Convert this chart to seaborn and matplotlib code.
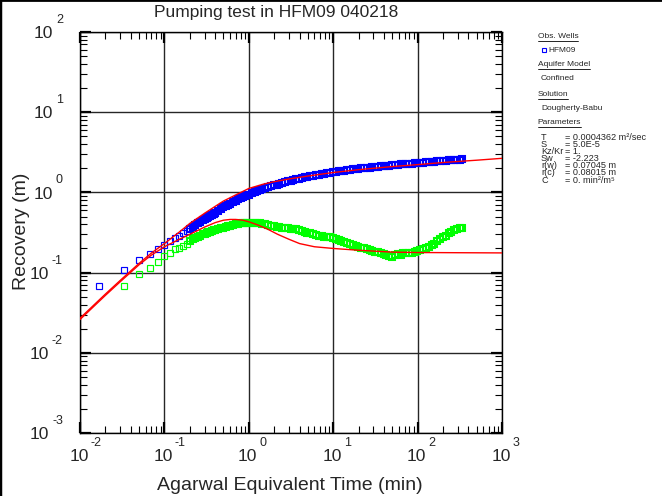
import numpy as np
import pandas as pd
import matplotlib
matplotlib.use("Agg")
import matplotlib.pyplot as plt
from matplotlib.lines import Line2D
from matplotlib.ticker import LogLocator, NullFormatter
import seaborn as sns

# ---------------- data ----------------
obs_time = [0.0167, 0.0333, 0.05, 0.0667, 0.0833, 0.1, 0.117, 0.133, 0.15, 0.167, 0.183,
            0.2, 0.217, 0.233, 0.25, 0.267, 0.283, 0.3, 0.317, 0.333, 0.35,
            0.367, 0.383, 0.4, 0.433, 0.467, 0.5, 0.533, 0.567, 0.6, 0.65,
            0.7, 0.75, 0.8, 0.85, 0.9, 0.95, 1.0, 1.08, 1.17, 1.25,
            1.35, 1.45, 1.57, 1.7, 1.83, 1.97, 2.13, 2.3, 2.48, 2.68,
            2.9, 3.13, 3.38, 3.65, 3.94, 4.25, 4.6, 4.96, 5.36, 5.79,
            6.25, 6.75, 7.29, 7.87, 8.5, 9.18, 9.92, 10.7, 11.6, 12.5,
            13.5, 14.6, 15.7, 17, 18.4, 19.8, 21.4, 23.1, 25, 27,
            29.1, 31.5, 34, 36.7, 39.6, 42.8, 46.2, 49.9, 53.9, 58.2,
            62.9, 67.9, 73.3, 79.2, 85.5, 92.4, 99.7, 108, 116, 126,
            136, 147, 158, 171, 185, 199, 215, 233, 251, 271,
            293, 316, 340]
recovery = [0.069, 0.107, 0.143, 0.169, 0.197, 0.219, 0.245, 0.268, 0.29, 0.31, 0.33,
            0.35, 0.37, 0.39, 0.41, 0.43, 0.45, 0.47, 0.485, 0.50, 0.515,
            0.53, 0.545, 0.56, 0.59, 0.62, 0.65, 0.68, 0.70, 0.725, 0.76,
            0.79, 0.82, 0.845, 0.87, 0.895, 0.915, 0.94, 0.975, 1.01, 1.04,
            1.07, 1.10, 1.13, 1.16, 1.19, 1.22, 1.25, 1.28, 1.31, 1.34,
            1.37, 1.40, 1.43, 1.46, 1.49, 1.51, 1.54, 1.57, 1.59, 1.62,
            1.64, 1.67, 1.69, 1.72, 1.74, 1.76, 1.79, 1.81, 1.83, 1.85,
            1.87, 1.89, 1.91, 1.93, 1.95, 1.97, 1.99, 2.01, 2.03, 2.04,
            2.06, 2.08, 2.10, 2.11, 2.13, 2.15, 2.16, 2.18, 2.20, 2.21,
            2.23, 2.24, 2.26, 2.27, 2.29, 2.30, 2.32, 2.33, 2.35, 2.37,
            2.38, 2.40, 2.42, 2.43, 2.45, 2.47, 2.48, 2.50, 2.52, 2.53,
            2.55, 2.57, 2.58]

deriv_time = obs_time[1:]
derivative = [0.069, 0.095, 0.115, 0.136, 0.163, 0.178, 0.195, 0.205, 0.215, 0.23,
              0.25, 0.26, 0.27, 0.28, 0.29, 0.30, 0.305, 0.312, 0.32, 0.325,
              0.33, 0.335, 0.34, 0.35, 0.36, 0.365, 0.375, 0.38, 0.385, 0.395,
              0.40, 0.405, 0.41, 0.415, 0.42, 0.42, 0.42, 0.42, 0.418, 0.415,
              0.41, 0.405, 0.40, 0.39, 0.385, 0.38, 0.375, 0.37, 0.365, 0.36,
              0.355, 0.35, 0.35, 0.345, 0.335, 0.33, 0.32, 0.315, 0.31, 0.30,
              0.295, 0.29, 0.285, 0.28, 0.28, 0.275, 0.27, 0.265, 0.255, 0.25,
              0.24, 0.235, 0.225, 0.22, 0.215, 0.21, 0.205, 0.20, 0.195, 0.19,
              0.188, 0.183, 0.18, 0.176, 0.172, 0.168, 0.163, 0.158, 0.166, 0.17,
              0.168, 0.174, 0.176, 0.174, 0.178, 0.18, 0.184, 0.19, 0.196, 0.20,
              0.21, 0.22, 0.23, 0.245, 0.26, 0.275, 0.29, 0.31, 0.325, 0.34,
              0.35, 0.355, 0.355]

model_time = [0.01, 0.02, 0.03, 0.05, 0.07, 0.1, 0.15, 0.2, 0.3, 0.4, 0.5, 0.7,
              1.0, 1.5, 2, 3, 5, 7, 10, 20, 50, 100, 200, 500, 1000]
model_recovery = [0.027, 0.054, 0.08, 0.13, 0.175, 0.23, 0.32, 0.41, 0.55, 0.67,
                  0.78, 0.93, 1.12, 1.27, 1.36, 1.47, 1.60, 1.68, 1.77, 1.92,
                  2.10, 2.22, 2.36, 2.52, 2.66]

model_deriv_time = [0.01, 0.02, 0.03, 0.05, 0.07, 0.1, 0.15, 0.2, 0.3, 0.4, 0.5,
                    0.6, 0.7, 0.85, 1.0, 1.3, 1.7, 2.2, 3, 4, 6, 10, 20, 50,
                    100, 300, 1000]
model_derivative = [0.026, 0.052, 0.077, 0.125, 0.165, 0.21, 0.26, 0.30, 0.37,
                    0.42, 0.45, 0.46, 0.46, 0.45, 0.43, 0.39, 0.345, 0.30,
                    0.26, 0.23, 0.21, 0.20, 0.19, 0.18, 0.178, 0.177, 0.176]

x_exponents = [-2, -1, 0, 1, 2, 3]
y_exponents = [-3, -2, -1, 0, 1, 2]

title = "Pumping test in HFM09 040218"
x_label = "Agarwal Equivalent Time (min)"
y_label = "Recovery (m)"

legend_items = [
    ("head", "Obs. Wells"),
    ("well", "HFM09"),
    ("head", "Aquifer Model"),
    ("item", "Confined"),
    ("head", "Solution"),
    ("item", "Dougherty-Babu"),
    ("head", "Parameters"),
]
param_names = ["T", "S", "Kz/Kr", "Sw", "r(w)", "r(c)", "C"]
param_values = ["= 0.0004362 m\u00b2/sec", "= 5.0E-5", "= 1.", "= -2.223",
                "= 0.07045 m", "= 0.08015 m", "= 0. min\u00b2/m\u2075"]

# ---------------- style ----------------
sns.set_style("white")
plt.rcParams["font.family"] = ["Liberation Sans", "DejaVu Sans"]

W, H = 662, 496
fig = plt.figure(figsize=(W / 100, H / 100), dpi=100)
fig.patch.set_facecolor("white")
ax = fig.add_axes([80 / W, 1 - 433 / H, (502 - 80) / W, (433 - 32) / H])
ax.set_facecolor("white")

BLUE = "#0000FF"
GREEN = "#00FF00"
RED = "#FF0000"

obs_df = pd.DataFrame({"time": obs_time, "recovery": recovery})
der_df = pd.DataFrame({"time": deriv_time, "derivative": derivative})
mod_df = pd.DataFrame({"time": model_time, "recovery": model_recovery})
mdd_df = pd.DataFrame({"time": model_deriv_time, "derivative": model_derivative})

ax.set_xscale("log")
ax.set_yscale("log")

# sparse early readings: thin isolated squares; dense later readings: bolder band
SPLIT = 0.19
for df, col, colr in ((obs_df, "recovery", BLUE), (der_df, "derivative", GREEN)):
    early = df[df["time"] < SPLIT]
    late = df[df["time"] >= SPLIT]
    sns.lineplot(data=early, x="time", y=col, ax=ax, linestyle="", marker="s",
                 markersize=4.0, markerfacecolor="none", markeredgecolor=colr,
                 markeredgewidth=0.85, color=colr, zorder=3)
    sns.lineplot(data=late, x="time", y=col, ax=ax, linestyle="", marker="s",
                 markersize=4.8, markerfacecolor="none", markeredgecolor=colr,
                 markeredgewidth=1.5, color=colr, zorder=3)

sns.lineplot(data=mod_df, x="time", y="recovery", ax=ax, color=RED,
             linewidth=1.0, zorder=4)
sns.lineplot(data=mdd_df, x="time", y="derivative", ax=ax, color=RED,
             linewidth=1.0, zorder=4)

ax.set_xlim(1e-2, 1e3)
ax.set_ylim(1e-3, 1e2)
ax.set_xlabel("")
ax.set_ylabel("")

for axis in (ax.xaxis, ax.yaxis):
    axis.set_major_locator(LogLocator(base=10, numticks=100))
    axis.set_minor_locator(LogLocator(base=10, subs=np.arange(2, 10), numticks=100))
    axis.set_minor_formatter(NullFormatter())

ax.grid(True, which="major", color="#262626", linewidth=1.0, zorder=1)
ax.grid(False, which="minor")
ax.tick_params(which="both", direction="in", top=True, right=True, bottom=True,
               left=True, labelbottom=False, labelleft=False, color="black")
ax.tick_params(which="major", length=8, width=1.6)
ax.tick_params(which="minor", length=5, width=0.8)
for s in ax.spines.values():
    s.set_color("black")
    s.set_linewidth(1.0)
ax.set_axisbelow(True)

# ---------------- tick labels ----------------
fig.canvas.draw()
renderer = fig.canvas.get_renderer()

BIG, SMALL = 12.5, 9
cap_big = 0.716 * BIG / 72 * 100
cap_small = 0.716 * SMALL / 72 * 100

for e in x_exponents:
    xd, yd = ax.transData.transform((10.0 ** e, 1e-3))
    fig.text((xd - 1) / W, (yd - 22 - cap_big / 2) / H, "10", ha="center",
             va="baseline", fontsize=BIG)
    fig.text((xd + 10.5) / W, (yd - 9 - cap_small / 2) / H, str(e),
             ha="left", va="baseline", fontsize=SMALL)

for e in y_exponents:
    xd, yd = ax.transData.transform((1e-2, 10.0 ** e))
    t = fig.text((xd - 17) / W, (yd + 13.5 - cap_small / 2) / H, str(e),
                 ha="right", va="baseline", fontsize=SMALL)
    bb = t.get_window_extent(renderer)
    fig.text((bb.x0 - 3) / W, (yd - cap_big / 2) / H, "10", ha="right",
             va="baseline", fontsize=BIG)

# ---------------- titles ----------------
fig.text(276 / W, 1 - 17 / H, title, ha="center", va="baseline", fontsize=12.5)
fig.text(290 / W, 1 - 490 / H, x_label, ha="center", va="baseline", fontsize=14)
fig.text(22 / W, 1 - 231 / H, y_label, ha="center", va="center", rotation=90,
         fontsize=14)

# ---------------- right-hand info panel ----------------
FS = 6.0
HEAD_X, ITEM_X = 537.5, 541.0
panel_y = [37, 50, 65, 79, 95, 108.5, 123]
for (kind, txt), yy in zip(legend_items, panel_y):
    if kind == "head":
        t = fig.text(HEAD_X / W, 1 - yy / H, txt, ha="left", va="center", fontsize=FS)
        bb = t.get_window_extent(renderer)
        fig.add_artist(Line2D([bb.x0 / W, bb.x1 / W], [(bb.y0 - 0.3) / H] * 2,
                              transform=fig.transFigure, color="black", lw=0.6))
    elif kind == "well":
        fig.add_artist(Line2D([(ITEM_X + 3) / W], [1 - yy / H],
                              transform=fig.transFigure, marker="s", markersize=3,
                              markerfacecolor="none", markeredgecolor=BLUE,
                              markeredgewidth=0.8, linestyle=""))
        fig.text((ITEM_X + 7) / W, 1 - yy / H, txt, ha="left", va="center",
                 fontsize=FS)
    else:
        fig.text(ITEM_X / W, 1 - yy / H, txt, ha="left", va="center", fontsize=FS)

# parameter block: a names column and a values column, both multi-line
PFS = 6.6
EQ_X = 565.0
BLOCK_TOP = 132.5
LS = 0.74
fig.text(ITEM_X / W, 1 - BLOCK_TOP / H, "\n".join(param_names), ha="left",
         va="top", fontsize=PFS, linespacing=LS)
fig.text(EQ_X / W, 1 - BLOCK_TOP / H, "\n".join(param_values), ha="left",
         va="top", fontsize=PFS, linespacing=LS)

# figure border (left and top edges)
fig.add_artist(Line2D([0, 0], [0, 1], transform=fig.transFigure, color="black", lw=2.5))
fig.add_artist(Line2D([0, 1], [1, 1], transform=fig.transFigure, color="black", lw=2.0))

fig.savefig("out.png", dpi=100, facecolor="white")
